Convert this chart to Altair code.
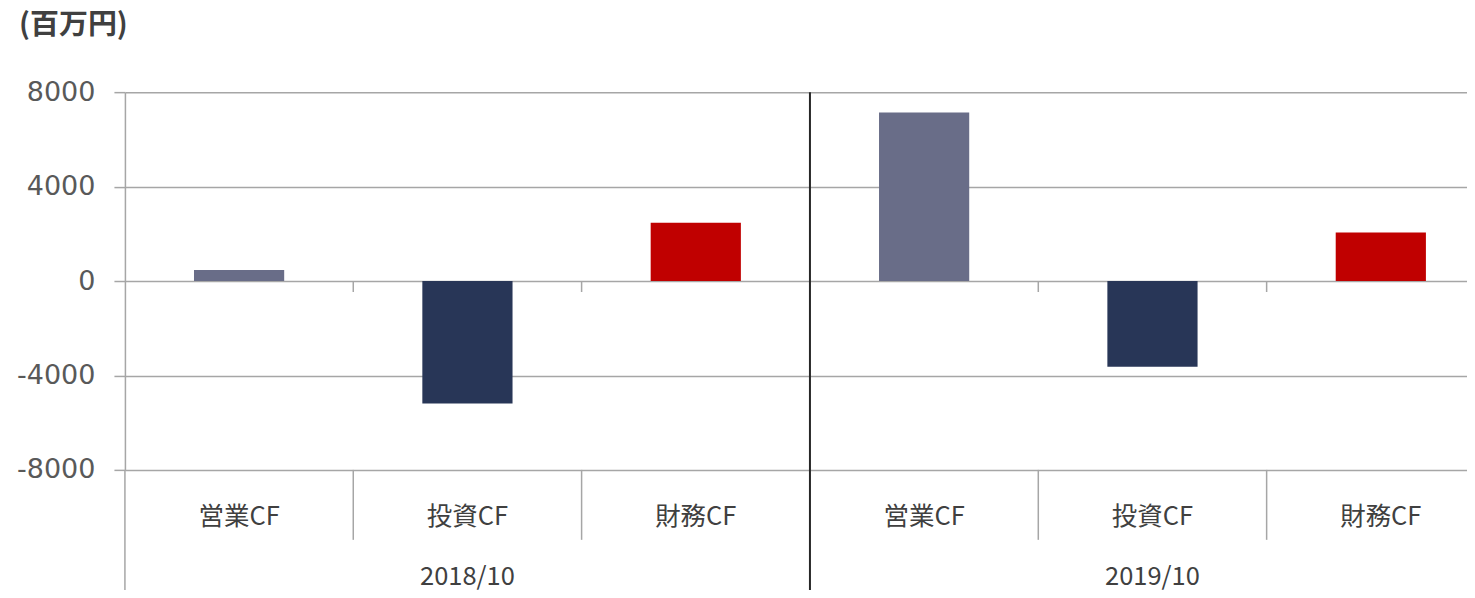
import altair as alt
import pandas as pd

years = ["2018/10", "2019/10"]
categories = ["営業CF", "投資CF", "財務CF"]
values_2018 = [470, -5190, 2470]
values_2019 = [7140, -3630, 2060]
colors = ["#696D88", "#283657", "#C00000"]
y_ticks = [-8000, -4000, 0, 4000, 8000]
unit_label = "(百万円)"

rows = []
for yr, vals in zip(years, [values_2018, values_2019]):
    for c, v in zip(categories, vals):
        rows.append({"year": yr, "cat": c, "key": f"{yr}|{c}", "value": v})
df = pd.DataFrame(rows)
keys = list(df["key"])

GRID = "#A6A6A6"
xscale = alt.Scale(domain=keys, range=[0, 1371], paddingInner=0, paddingOuter=0)


def xenc(band=0.5):
    return alt.X("key:N", scale=xscale, axis=None, bandPosition=band)


bars = alt.Chart(df).mark_bar(width=alt.RelativeBandSize(0.395)).encode(
    x=xenc(),
    y=alt.Y(
        "value:Q",
        scale=alt.Scale(domain=[-8000, 8000], nice=False),
        axis=alt.Axis(
            values=y_ticks, title=None, grid=True,
            labelExpr="'' + datum.value",
            gridColor=GRID, gridWidth=1.5, domainColor=GRID, domainWidth=1.5,
            tickColor=GRID, tickSize=11, tickWidth=1.5,
            labelFont="DejaVu Sans", labelFontSize=27, labelColor="#595959",
            labelPadding=19,
        ),
    ),
    color=alt.Color("cat:N", scale=alt.Scale(domain=categories, range=colors), legend=None),
)

sep_df = df[df["cat"] != categories[0]]
sep_lines = alt.Chart(sep_df).mark_rule(color=GRID, strokeWidth=1.5).encode(
    x=xenc(0), y=alt.value(378), y2=alt.value(448)
)
zero_ticks = alt.Chart(sep_df).mark_rule(color=GRID, strokeWidth=1.5).encode(
    x=xenc(0), y=alt.Y(datum=0), y2=alt.value(200)
)

first_df = df[(df["cat"] == categories[0]) & (df["year"] == years[0])]
axis_ext = alt.Chart(first_df).mark_rule(color=GRID, strokeWidth=1.5).encode(
    x=xenc(0), y=alt.value(378), y2=alt.value(500)
)
div_df = df[(df["cat"] == categories[0]) & (df["year"] == years[1])]
divider = alt.Chart(div_df).mark_rule(color="#262626", strokeWidth=2).encode(
    x=xenc(0), y=alt.value(0), y2=alt.value(500)
)

cat_labels = alt.Chart(df).mark_text(
    font="Noto Sans CJK JP", fontSize=25.5, color="#404040", baseline="middle"
).encode(x=xenc(), y=alt.value(425), text="cat:N")

year_df = df[df["cat"] == categories[1]]
year_labels = alt.Chart(year_df).mark_text(
    font="Noto Sans CJK JP", fontSize=25.5, color="#404040", baseline="middle"
).encode(x=xenc(), y=alt.value(485), text="year:N")

title_df = pd.DataFrame({"t": [unit_label]})
title = alt.Chart(title_df).mark_text(
    font="Noto Sans CJK JP", fontSize=29, fontWeight="bold", color="#404040",
    align="left", baseline="middle"
).encode(x=alt.value(-106), y=alt.value(-67), text="t:N")

chart = alt.layer(
    bars, zero_ticks, sep_lines, axis_ext, divider, cat_labels, year_labels, title
).properties(
    width=1343, height=378,
    padding={"left": 117, "top": 84, "right": 0, "bottom": 120},
    autosize="none",
).configure_view(stroke=None)

chart.save("out.html", embed_options={"renderer": "svg", "actions": False})
